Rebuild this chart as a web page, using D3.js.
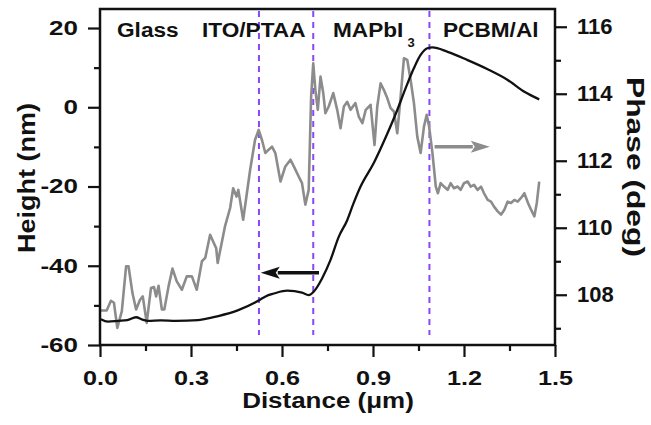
<!DOCTYPE html>
<html>
<head>
<meta charset="utf-8">
<script src="https://cdnjs.cloudflare.com/ajax/libs/d3/7.8.5/d3.min.js"></script>
<style>
  body { margin: 0; background: #fff; }
  svg text { font-family: "Liberation Sans", Arial, sans-serif; font-weight: bold; fill: #111; }
</style>
</head>
<body>
<div class="chart"></div>
<script>
// height profile (black, left axis)
const distHeight = [0.003,0.026,0.06,0.09,0.119,0.14,0.159,0.2,0.25,0.324,0.39,0.456,0.511,0.529,0.555,0.573,0.617,0.666,0.688,0.705,0.732,0.76,0.787,0.815,0.836,0.859,0.903,0.947,0.98,1.008,1.035,1.057,1.079,1.096,1.146,1.212,1.278,1.344,1.399,1.448];
const heightNm = [-53.5,-54.1,-53.9,-53.7,-53.0,-53.6,-53.9,-53.8,-53.9,-53.7,-52.7,-51.2,-49.3,-48.5,-47.4,-47.0,-46.3,-46.8,-47.4,-46.5,-43.2,-38.5,-32.7,-28.5,-24.2,-20.0,-14.0,-6.7,-0.7,4.9,9.9,13.2,14.9,15.1,14.0,11.9,9.6,6.9,3.9,2.0];

// phase profile (grey, right axis)
const distPhase = [0.003,0.022,0.036,0.046,0.057,0.072,0.086,0.094,0.107,0.119,0.132,0.141,0.154,0.168,0.178,0.185,0.193,0.204,0.212,0.226,0.239,0.253,0.27,0.286,0.303,0.319,0.336,0.347,0.363,0.383,0.388,0.412,0.429,0.439,0.45,0.456,0.472,0.495,0.511,0.523,0.534,0.545,0.556,0.567,0.578,0.595,0.611,0.628,0.639,0.655,0.666,0.677,0.688,0.696,0.703,0.71,0.718,0.727,0.736,0.743,0.754,0.769,0.782,0.793,0.804,0.815,0.826,0.842,0.853,0.865,0.876,0.892,0.905,0.914,0.925,0.936,0.947,0.958,0.969,0.98,0.991,1.002,1.013,1.024,1.035,1.046,1.057,1.068,1.077,1.085,1.096,1.107,1.114,1.123,1.134,1.146,1.156,1.167,1.179,1.189,1.2,1.212,1.222,1.233,1.245,1.256,1.266,1.278,1.289,1.299,1.311,1.322,1.333,1.344,1.355,1.366,1.377,1.388,1.399,1.411,1.421,1.432,1.44,1.448];
const phaseDeg = [107.53,107.53,107.82,107.76,107.01,107.51,108.85,108.85,108.05,107.56,107.85,107.95,107.16,108.2,108.23,107.95,108.27,107.56,107.56,108.25,108.78,108.4,108.15,108.55,108.55,108.15,109.0,109.1,109.79,109.39,108.95,110.04,110.59,111.18,110.93,111.13,110.24,111.73,112.62,112.92,112.62,112.23,112.33,112.42,112.23,111.38,111.83,112.03,111.83,111.53,111.33,110.69,111.13,113.91,114.91,114.11,113.52,114.51,114.02,113.42,113.62,114.02,113.52,112.97,113.62,113.76,113.52,113.72,113.32,113.12,113.52,113.67,112.47,113.62,114.31,114.11,113.87,113.57,113.47,112.82,113.91,115.06,115.01,114.41,113.72,112.72,112.23,113.02,113.37,113.02,112.23,111.23,111.03,111.33,111.23,111.13,111.33,111.18,111.23,111.13,111.33,111.38,111.23,111.28,111.13,111.23,111.03,110.83,110.78,110.63,110.49,110.39,110.54,110.78,110.74,110.83,110.78,110.89,111.03,110.74,110.54,110.34,110.74,111.38];

const layerEdges = [0.524, 0.703, 1.086];
const layerNames = ["Glass", "ITO/PTAA", "MAPbI", "PCBM/Al"];
const xTicks = [0, 0.3, 0.6, 0.9, 1.2, 1.5];
const xMinor = [0.15, 0.45, 0.75, 1.05, 1.35];
const hTicks = [-60, -40, -20, 0, 20];
const hMinor = [-50, -30, -10, 10];
const pTicks = [108, 110, 112, 114, 116];
const pMinor = [107, 109, 111, 113, 115];

const w = 651, h = 425;
const padLeft = 100, padRight = 555, padTop = 9, padBottom = 345;

const svg = d3.select(".chart").append("svg")
  .attr("width", w).attr("height", h);

const x = d3.scaleLinear().domain([0, 1.5]).range([padLeft, padRight]);
const yL = d3.scaleLinear().domain([-60, 24.8]).range([padBottom, padTop]);
const yR = d3.scaleLinear().domain([106.5, 116.53]).range([padBottom, padTop]);

// stretch text horizontally like the original figure
const widen = (sel, k) => sel.each(function () {
  const n = this.getComputedTextLength();
  d3.select(this).attr("textLength", n * k).attr("lengthAdjust", "spacingAndGlyphs");
});

// layer boundaries
svg.selectAll("line.edge")
  .data(layerEdges)
  .enter().append("line")
  .attr("class", "edge")
  .attr("x1", d => x(d)).attr("x2", d => x(d))
  .attr("y1", yL(24.3)).attr("y2", yL(-57.5))
  .attr("stroke", "#8a48f5")
  .attr("stroke-width", 2)
  .attr("stroke-dasharray", "6,5");

// phase line
svg.append("path")
  .datum(distPhase.map((d, i) => [d, phaseDeg[i]]))
  .attr("fill", "none")
  .attr("stroke", "#8c8c8c")
  .attr("stroke-width", 2.6)
  .attr("stroke-linejoin", "round")
  .attr("d", d3.line().x(d => x(d[0])).y(d => yR(d[1])));

// height line
svg.append("path")
  .datum(distHeight.map((d, i) => [d, heightNm[i]]))
  .attr("fill", "none")
  .attr("stroke", "#111")
  .attr("stroke-width", 2.3)
  .attr("d", d3.line().curve(d3.curveMonotoneX).x(d => x(d[0])).y(d => yL(d[1])));

// arrows
const arrow = (x0, x1, yy, col) => {
  const dir = x1 > x0 ? 1 : -1;
  const head = 19;
  svg.append("line")
    .attr("x1", x0).attr("x2", x1 - dir * (head - 2))
    .attr("y1", yy).attr("y2", yy)
    .attr("stroke", col).attr("stroke-width", 3.5);
  svg.append("path")
    .attr("d", `M${x1},${yy} L${x1 - dir * head},${yy - 6} L${x1 - dir * (head - 4)},${yy} L${x1 - dir * head},${yy + 6} Z`)
    .attr("fill", col);
};
arrow(x(0.722), x(0.53), yL(-41.75), "#111");
arrow(x(1.103), x(1.285), yR(112.42), "#8c8c8c");

// frame
svg.append("rect")
  .attr("x", padLeft).attr("y", padTop)
  .attr("width", padRight - padLeft).attr("height", padBottom - padTop)
  .attr("fill", "none").attr("stroke", "#111").attr("stroke-width", 2.5);

// axes
const gl = svg.append("g").attr("transform", "translate(" + padLeft + ",0)")
  .call(d3.axisLeft(yL).tickValues(hTicks).tickFormat(d => String(d)).tickSize(12).tickPadding(10).tickSizeOuter(0));
svg.append("g").attr("transform", "translate(" + padLeft + ",0)")
  .call(d3.axisLeft(yL).tickValues(hMinor).tickSize(6).tickFormat("").tickSizeOuter(0));
const gb = svg.append("g").attr("transform", "translate(0," + padBottom + ")")
  .call(d3.axisBottom(x).tickValues(xTicks).tickFormat(d3.format(".1f")).tickSize(12).tickPadding(13).tickSizeOuter(0));
svg.append("g").attr("transform", "translate(0," + padBottom + ")")
  .call(d3.axisBottom(x).tickValues(xMinor).tickSize(6).tickFormat("").tickSizeOuter(0));
const gr = svg.append("g").attr("transform", "translate(" + padRight + ",0)")
  .call(d3.axisRight(yR).tickValues(pTicks).tickSize(12).tickPadding(10).tickSizeOuter(0));
svg.append("g").attr("transform", "translate(" + padRight + ",0)")
  .call(d3.axisRight(yR).tickValues(pMinor).tickSize(6).tickFormat("").tickSizeOuter(0));

svg.selectAll(".domain").remove();
svg.selectAll(".tick line").attr("stroke", "#111").attr("stroke-width", 2.2);
svg.selectAll("g").attr("font-family", null).attr("font-size", null);

gl.selectAll("text").style("font-size", "20px").call(widen, 1.3);
gb.selectAll("text").style("font-size", "21px").call(widen, 1.2);
gr.selectAll("text").style("font-size", "22px");

// axis titles
svg.append("text")
  .attr("x", 328).attr("y", 408)
  .attr("text-anchor", "middle")
  .style("font-size", "22px")
  .text("Distance (\u03bcm)")
  .call(widen, 1.18);

svg.append("text")
  .attr("transform", "translate(35,178) rotate(-90)")
  .attr("text-anchor", "middle")
  .style("font-size", "24px")
  .text("Height (nm)")
  .attr("textLength", 150).attr("lengthAdjust", "spacingAndGlyphs");

svg.append("text")
  .attr("transform", "translate(627,167) rotate(90)")
  .attr("text-anchor", "middle")
  .style("font-size", "23px")
  .text("Phase (deg)")
  .attr("textLength", 180).attr("lengthAdjust", "spacingAndGlyphs");

// layer names
const labelX = [117, 202, 333, 443];
layerNames.forEach((t, i) => {
  const lab = svg.append("text")
    .attr("x", labelX[i]).attr("y", 37)
    .style("font-size", "19.5px")
    .text(t)
    .call(widen, 1.16);
  if (t === "MAPbI") {
    const n = +lab.attr("textLength");
    svg.append("text")
      .attr("x", labelX[i] + n + 4).attr("y", 47)
      .style("font-size", "13px")
      .text("3");
  }
});
</script>
</body>
</html>
